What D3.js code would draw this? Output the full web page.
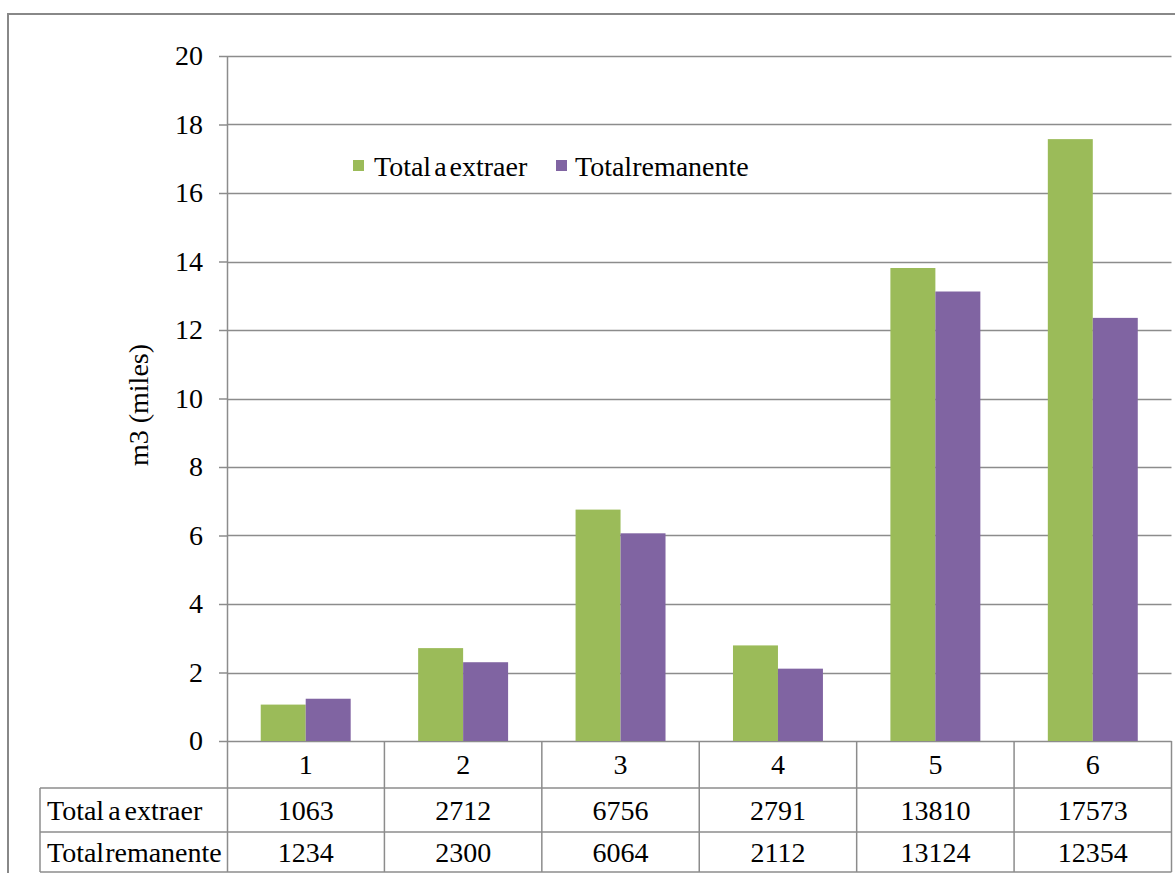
<!DOCTYPE html>
<html>
<head>
<meta charset="utf-8">
<script src="https://cdn.jsdelivr.net/npm/d3@7"></script>
<style>
  html, body { margin: 0; padding: 0; background: #fff; }
  svg { display: block; font-family: "Liberation Serif", "Times New Roman", serif; }
  svg text { font-family: "Liberation Serif", "Times New Roman", serif; }
</style>
</head>
<body>
<svg id="chart" width="1175" height="873"></svg>
<script>
// Periods shown on the category axis
const categories = ["1", "2", "3", "4", "5", "6"];
// Volumes in m3
const totalExtraer = [1063, 2712, 6756, 2791, 13810, 17573];
const totalRemanente = [1234, 2300, 6064, 2112, 13124, 12354];
// Series names
const seriesNames = ["Total a extraer", "Total remanente"];
const seriesColors = ["#9BBB59", "#8064A2"];
// Value axis ticks (thousands of m3)
const yTicks = [0, 2, 4, 6, 8, 10, 12, 14, 16, 18, 20];

const svg = d3.select("#chart");
const gridColor = "#8c8c8c";
const fontSize = 28;
// tighter word gaps for the series names
const nameSpacing = [-3, -6];

const plot = { left: 227, right: 1171.5, top: 56, bottom: 741 };
const table = { left: 40, row1: 741, row2: 788, row3: 832, bottom: 872 };

// Outer chart frame
svg.append("rect")
  .attr("x", 8).attr("y", 14)
  .attr("width", 1175).attr("height", 900)
  .attr("fill", "none").attr("stroke", "#888").attr("stroke-width", 2);

const y = d3.scaleLinear().domain([0, 20]).range([plot.bottom, plot.top]);
const x0 = d3.scaleBand().domain(categories).range([plot.left, plot.right]).padding(0);
const bw = x0.bandwidth();
const barW = bw / 3.5;
const x1 = d3.scaleBand().domain(seriesNames)
  .range([(bw - 2 * barW) / 2, (bw + 2 * barW) / 2]).padding(0);

// Gridlines and left tick marks
const yAxis = d3.axisLeft(y).tickValues(yTicks).tickSize(8).tickFormat(d3.format("d"));
const yg = svg.append("g").attr("transform", `translate(${plot.left},0)`).call(yAxis)
  .attr("font-family", null).attr("font-size", null);
yg.select(".domain").remove();
yg.selectAll(".tick line").attr("stroke", gridColor).attr("stroke-width", 1.5);
yg.selectAll(".tick text")
  .attr("x", -24)
  .attr("font-size", fontSize)
  .attr("fill", "#000");

svg.append("g").selectAll("line")
  .data(yTicks)
  .join("line")
  .attr("x1", plot.left).attr("x2", plot.right)
  .attr("y1", d => Math.round(y(d)) + 0.5).attr("y2", d => Math.round(y(d)) + 0.5)
  .attr("stroke", gridColor).attr("stroke-width", 1.5);

// Bars
const rows = categories.map((c, i) => ({ cat: c, vals: [totalExtraer[i], totalRemanente[i]] }));
svg.append("g").selectAll("g")
  .data(rows)
  .join("g")
  .attr("transform", d => `translate(${x0(d.cat)},0)`)
  .selectAll("rect")
  .data(d => d.vals.map((v, k) => ({ name: seriesNames[k], v: v / 1000, k })))
  .join("rect")
  .attr("x", d => x1(d.name))
  .attr("width", x1.bandwidth())
  .attr("y", d => y(d.v))
  .attr("height", d => y(0) - y(d.v))
  .attr("fill", d => seriesColors[d.k]);

// Value axis line
svg.append("line")
  .attr("x1", plot.left + 0.5).attr("x2", plot.left + 0.5)
  .attr("y1", plot.top).attr("y2", table.bottom)
  .attr("stroke", gridColor).attr("stroke-width", 1.5);

// Data table grid
const tg = svg.append("g").attr("stroke", gridColor).attr("stroke-width", 1.5);
[table.row2, table.row3, table.bottom].forEach(yy => {
  tg.append("line").attr("x1", table.left).attr("x2", plot.right).attr("y1", yy).attr("y2", yy);
});
tg.append("line").attr("x1", table.left).attr("x2", table.left).attr("y1", table.row2).attr("y2", table.bottom);
categories.forEach(c => {
  const xx = x0(c) + bw;
  tg.append("line").attr("x1", xx).attr("x2", xx).attr("y1", table.row1).attr("y2", table.bottom);
});

// Category labels
svg.append("g").selectAll("text")
  .data(categories)
  .join("text")
  .attr("x", d => x0(d) + bw / 2)
  .attr("y", (table.row1 + table.row2) / 2)
  .attr("dy", "0.35em")
  .attr("text-anchor", "middle")
  .attr("font-size", fontSize)
  .text(d => d);

// Table rows
const tableRows = [
  { k: 0, vals: totalExtraer, top: table.row2, bot: table.row3 },
  { k: 1, vals: totalRemanente, top: table.row3, bot: table.bottom }
];
tableRows.forEach(r => {
  const cy = (r.top + r.bot) / 2;
  svg.append("text")
    .attr("x", table.left + 7).attr("y", cy).attr("dy", "0.35em")
    .attr("font-size", fontSize).attr("word-spacing", nameSpacing[r.k])
    .text(seriesNames[r.k]);
  svg.append("g").selectAll("text")
    .data(r.vals)
    .join("text")
    .attr("x", (d, i) => x0(categories[i]) + bw / 2)
    .attr("y", cy).attr("dy", "0.35em")
    .attr("text-anchor", "middle")
    .attr("font-size", fontSize)
    .text(d => d);
});

// Axis title
svg.append("text")
  .attr("transform", "translate(148,405) rotate(-90)")
  .attr("text-anchor", "middle")
  .attr("font-size", fontSize)
  .text("m3 (miles)");

// Legend
const legend = svg.append("g").attr("transform", "translate(353,166)");
const legendX = [0, 203];
seriesNames.forEach((name, i) => {
  const g = legend.append("g").attr("transform", `translate(${legendX[i]},0)`);
  g.append("rect").attr("x", 0).attr("y", -6).attr("width", 11).attr("height", 11).attr("fill", seriesColors[i]);
  g.append("text").attr("x", i === 0 ? 21 : 19).attr("y", 0).attr("dy", "0.35em")
    .attr("font-size", fontSize).attr("word-spacing", nameSpacing[i] - 1).text(name);
});
</script>
</body>
</html>
